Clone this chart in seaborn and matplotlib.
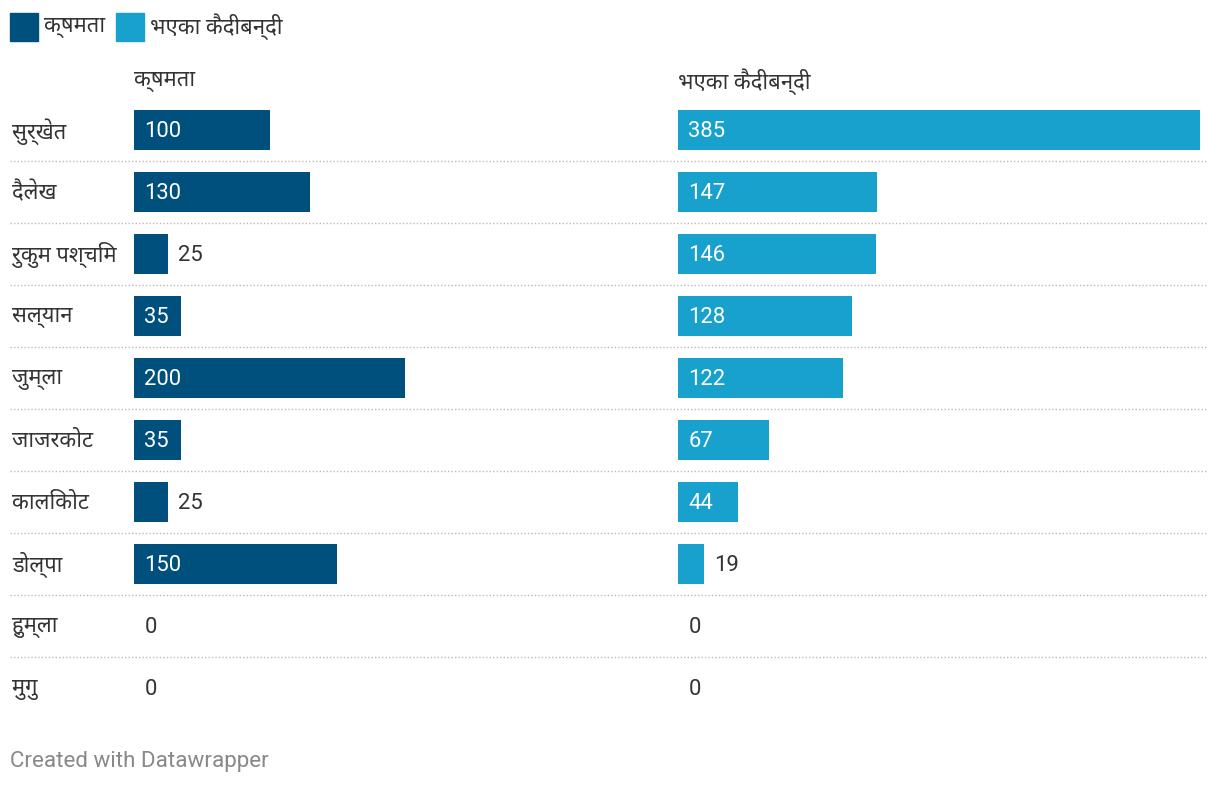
import matplotlib
matplotlib.use("Agg")
import matplotlib.pyplot as plt
import matplotlib.transforms as mtransforms
from matplotlib.lines import Line2D
from matplotlib.patches import Rectangle
import seaborn as sns
import pandas as pd

# --- data ---------------------------------------------------------------
districts = ["सुर्खेत", "दैलेख", "रुकुम पश्चिम", "सल्यान", "जुम्ला",
             "जाजरकोट", "कालिकोट", "डोल्पा", "हुम्ला", "मुगु"]
capacity = [100, 130, 25, 35, 200, 35, 25, 150, 0, 0]
inmates = [385, 147, 146, 128, 122, 67, 44, 19, 0, 0]
series_names = ["क्षमता", "भएका कैदीबन्दी"]
series_colors = ["#00507d", "#18a1cd"]
footer = "Created with Datawrapper"

df = pd.DataFrame({"district": districts, "capacity": capacity, "inmates": inmates})

# --- style --------------------------------------------------------------
sns.set_theme(style="white")
FONTS = ["Roboto", "Noto Sans Devanagari", "Noto Sans", "DejaVu Sans"]
plt.rcParams["font.family"] = FONTS
TEXT = "#333333"
FS = 15.8

W, H = 1220, 786
fig = plt.figure(figsize=(W / 100, H / 100), dpi=100)
fig.patch.set_facecolor("white")


def fx(px):
    return px / W


def fy(py):
    return 1 - py / H


# plot area: rows from y=99 to y=719 (62px each)
top, bottom = 99, 719
ax_h = (bottom - top) / H
ax_b = fy(bottom)
ax_left = fig.add_axes([fx(134), ax_b, fx(522), ax_h])
ax_right = fig.add_axes([fx(678), ax_b, fx(522), ax_h])

xmax = max(inmates)
for ax, col, color, name in [(ax_left, "capacity", series_colors[0], series_names[0]),
                             (ax_right, "inmates", series_colors[1], series_names[1])]:
    sns.barplot(data=df, x=col, y="district", orient="h", color=color,
                saturation=1, width=40 / 62, linewidth=0, ax=ax)
    ax.set_xlim(0, xmax)
    ax.set_ylim(len(districts) - 0.5, -0.5)
    ax.set_axis_off()
    px_per_unit = 522 / xmax
    for i, v in enumerate(df[col]):
        if v * px_per_unit > 40:
            ax.annotate(str(v), (0, i), xytext=(7.5, -1.2), textcoords="offset points",
                        va="center", ha="left", color="white", fontsize=FS)
        else:
            ax.annotate(str(v), (v, i), xytext=(7.5, -1.2), textcoords="offset points",
                        va="center", ha="left", color=TEXT, fontsize=FS)
    # column header
    ax.text(0, -0.5 - 17 / 62, name, transform=ax.transData, ha="left",
            va="center", color=TEXT, fontsize=FS)

# row labels and dotted separators
trans = mtransforms.blended_transform_factory(fig.transFigure, ax_left.transData)
for i, d in enumerate(districts):
    ax_left.text(fx(12), i + 0.02, d, transform=trans, ha="left", va="center",
                 color=TEXT, fontsize=FS, clip_on=False)
    if i < len(districts) - 1:
        fig.add_artist(Line2D([fx(10), fx(1208)], [i + 0.5, i + 0.5],
                              transform=trans, color="#bbbbbb", lw=1,
                              linestyle=(0, (1, 1.5))))

# legend
for x0, name, color in [(10, series_names[0], series_colors[0]),
                        (116, series_names[1], series_colors[1])]:
    fig.add_artist(Rectangle((fx(x0), fy(41)), fx(28), 28 / H,
                             transform=fig.transFigure, color=color))
    fig.text(fx(x0 + 34), fy(27), name, ha="left", va="center",
             color=TEXT, fontsize=FS)

# footer
fig.text(fx(10), fy(761), footer, ha="left", va="center", color="#888888",
         fontsize=FS + 0.3)

fig.savefig("out.png", dpi=100, facecolor="white")
